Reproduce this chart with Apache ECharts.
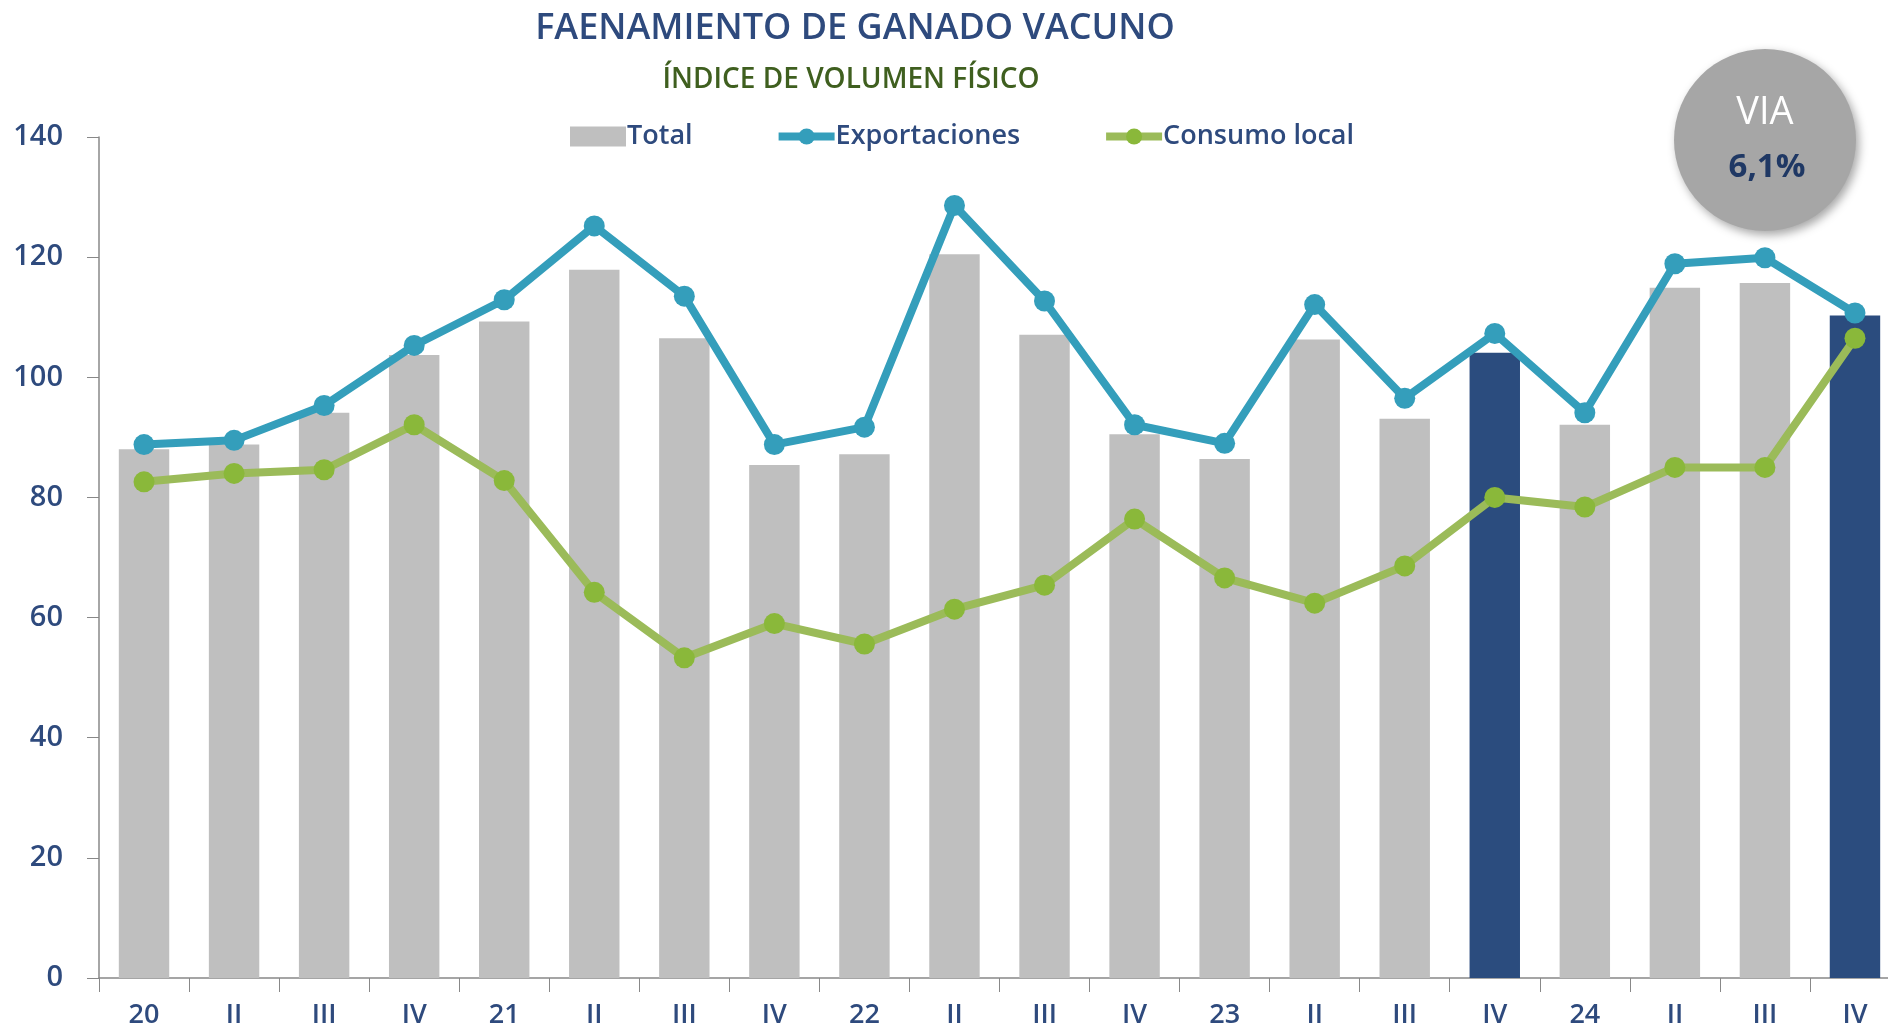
<!DOCTYPE html>
<html><head><meta charset="utf-8">
<script src="https://cdn.jsdelivr.net/npm/echarts@6/dist/echarts.min.js"></script>
<style>html,body{margin:0;padding:0;background:#fff}#c{width:1888px;height:1032px}</style>
</head><body><div id="c"></div>
<script>
const categories = ['20','II','III','IV','21','II','III','IV','22','II','III','IV','23','II','III','IV','24','II','III','IV'];
const total = [88.0,88.8,94.1,103.7,109.3,117.9,106.5,85.4,87.2,120.5,107.1,90.5,86.4,106.3,93.1,104.1,92.1,114.9,115.7,110.3];
const exportaciones = [88.8,89.5,95.3,105.3,112.9,125.2,113.5,88.8,91.7,128.6,112.7,92.1,89.0,112.1,96.5,107.3,94.1,118.9,119.9,110.7];
const consumo = [82.6,84.0,84.6,92.1,82.8,64.2,53.3,59.0,55.6,61.4,65.4,76.4,66.6,62.4,68.6,80.0,78.4,85.0,85.0,106.5];
const highlighted = [15, 19];
const yTicks = {min: 0, max: 140, interval: 20};

const FONT = '"Open Sans",sans-serif';
const BLUE = '#2e4a7d';
const chart = echarts.init(document.getElementById('c'));
chart.setOption({
  animation: false,
  title: [
    {text: 'FAENAMIENTO DE GANADO VACUNO', left: 850, textAlign: 'center', top: 6,
     textStyle: {color: '#2e4a7d', fontSize: 36, fontWeight: 600, fontFamily: FONT}},
    {text: 'ÍNDICE DE VOLUMEN FÍSICO', left: 846, textAlign: 'center', top: 61,
     textStyle: {color: '#3f5f1f', fontSize: 28, fontWeight: 600, fontFamily: FONT}}
  ],
  legend: {
    top: 118, left: 565, itemGap: 82, itemWidth: 56, itemHeight: 20,
    textStyle: {color: BLUE, fontSize: 27, fontWeight: 600, fontFamily: FONT, padding: [0,0,0,-4]},
    data: [
      {name:'Total', icon:'rect', itemStyle:{color:'#bfbfbf'}},
      {name:'Exportaciones', lineStyle:{width: 8, color:'#349ebb'}, itemStyle:{color:'#349ebb'}},
      {name:'Consumo local', lineStyle:{width: 8, color:'#9bbb59'}, itemStyle:{color:'#8ab83a'}}
    ]
  },
  grid: {left: 99, width: 1801, top: 137, bottom: 54, containLabel: false, outerBoundsMode: 'none'},
  xAxis: {
    type: 'category', data: categories, boundaryGap: true,
    axisLine: {lineStyle: {color: '#888', width: 1.5}},
    axisTick: {show: true, interval: 0, length: 14, lineStyle: {color: '#888'}},
    axisLabel: {color: BLUE, fontSize: 27, fontWeight: 600, fontFamily: FONT, margin: 24, interval: 0}
  },
  yAxis: {
    type: 'value', min: yTicks.min, max: yTicks.max, interval: yTicks.interval,
    splitLine: {show: false},
    axisLine: {show: true, lineStyle: {color: '#888', width: 1.5}},
    axisTick: {show: true, length: 12, lineStyle: {color: '#888'}},
    axisLabel: {color: BLUE, fontSize: 29, fontWeight: 600, fontFamily: FONT, margin: 36}
  },
  series: [
    {name: 'Total', type: 'bar', barWidth: '56%',
     data: total.map((v, i) => highlighted.includes(i) ? {value: v, itemStyle: {color: '#2b4c7e'}} : v),
     itemStyle: {color: '#bfbfbf'}, z: 1},
    {name: 'Consumo local', type: 'line', data: consumo, symbol: 'circle', symbolSize: 21,
     lineStyle: {color: '#9bbb59', width: 8}, itemStyle: {color: '#8ab83a'}, z: 3},
    {name: 'Exportaciones', type: 'line', data: exportaciones, symbol: 'circle', symbolSize: 21,
     lineStyle: {color: '#349ebb', width: 8}, itemStyle: {color: '#349ebb'}, z: 4}
  ],
  graphic: [
    {type: 'circle', shape: {cx: 1765, cy: 140, r: 91}, z: 10,
     style: {fill: '#a6a6a6', shadowBlur: 10, shadowColor: 'rgba(0,0,0,0.35)', shadowOffsetX: 3, shadowOffsetY: 4}},
    {type: 'text', x: 1765, y: 113, z: 11,
     style: {text: 'VIA', fill: '#ffffff', font: '38px "Open Sans", sans-serif', textAlign: 'center', textVerticalAlign: 'middle'}},
    {type: 'text', x: 1767, y: 168, z: 11,
     style: {text: '6,1%', fill: '#1f3864', font: 'bold 33px "Open Sans", sans-serif', textAlign: 'center', textVerticalAlign: 'middle'}}
  ]
});
</script></body></html>
